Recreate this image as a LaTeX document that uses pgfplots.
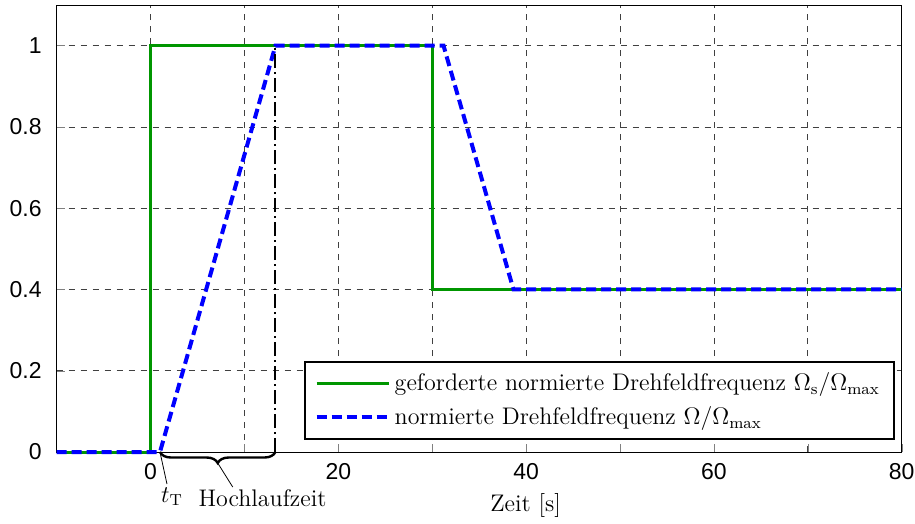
\documentclass[border=0pt]{standalone}
\usepackage{fontspec}
\setsansfont{Liberation Sans}
\usepackage{pgfplots}
\pgfplotsset{compat=1.18}
\usetikzlibrary{decorations.pathreplacing}

\definecolor{sollgreen}{RGB}{0,150,0}

\begin{document}
\begin{tikzpicture}
\begin{axis}[
  name=ax,
  scale only axis,
  width=422.5pt, height=223.5pt,
  xmin=-10, xmax=80, ymin=0, ymax=1.1,
  xtick={-10,0,...,80},
  xticklabels={,0,,20,,40,,60,,80},
  ytick={0,0.2,0.4,0.6,0.8,1},
  yticklabels={0,0.2,0.4,0.6,0.8,1},
  tick align=inside,
  tick pos=left,
  major tick length=4pt,
  grid=major,
  grid style={dashed, black!75, line width=0.4pt},
  ticklabel style={font=\fontsize{11.5}{13}\selectfont\sffamily},
  xticklabel style={inner xsep=0pt, yshift=-2pt},
  yticklabel style={xshift=-4pt},
  xlabel={Zeit [s]},
  xlabel style={font=\large, at={(ticklabel cs:0.555)}, anchor=north},
  clip=false,
  legend style={at={(0.992,0.027)}, anchor=south east, draw=black,
    line width=1pt, fill=white, font=\large, row sep=2.5pt,
    inner xsep=5pt, inner ysep=3.5pt},
  legend cell align=left,
  legend image code/.code={\draw[#1] (0pt,0pt) -- (36pt,0pt);},
]
% commanded (set-point) frequency
\addplot[sollgreen, line width=1.5pt]
  coordinates {(-10,0) (0,0) (0,1) (30,1) (30,0.4) (80,0.4)};
\addlegendentry{geforderte normierte Drehfeldfrequenz $\Omega_{\mathrm{s}}/\Omega_{\max}$}
% actual frequency following the ramp
\addplot[blue, line width=2pt, dash pattern=on 5pt off 2.5pt]
  coordinates {(-10,0) (1,0) (13.3,1) (31.2,1) (38.65,0.4) (80,0.4)};
\addlegendentry{normierte Drehfeldfrequenz $\Omega/\Omega_{\max}$}

% end of run-up
\draw[line width=1pt, dash pattern=on 7pt off 2pt on 1pt off 2pt]
  (axis cs:13.3,0) -- (axis cs:13.3,1);
% run-up time brace
\draw[line width=1.2pt, decorate, decoration={brace, mirror, amplitude=5.5pt}]
  (axis cs:1,0) -- (axis cs:13.3,0);
\draw[line width=0.4pt] (axis cs:7.15,0) ++(0pt,-5.5pt) -- ++(7.5pt,-12pt);
\node[font=\large, anchor=base, inner sep=0pt, yshift=-27pt] at (axis cs:11.92,0) {Hochlaufzeit};
\draw[line width=0.4pt] (axis cs:1,0) -- ++(3.5pt,-16pt);
\node[font=\large, anchor=base, inner sep=0pt, yshift=-25pt] at (axis cs:2.28,0) {$t_{\mathrm{T}}$};
\end{axis}
\path (ax.south west) ++(-28.35pt,-31pt) rectangle (ax.north east);
\path (ax.north east) ++(6.65pt,2.5pt) coordinate (tr);
\path (tr) rectangle (tr);
\end{tikzpicture}
\end{document}
